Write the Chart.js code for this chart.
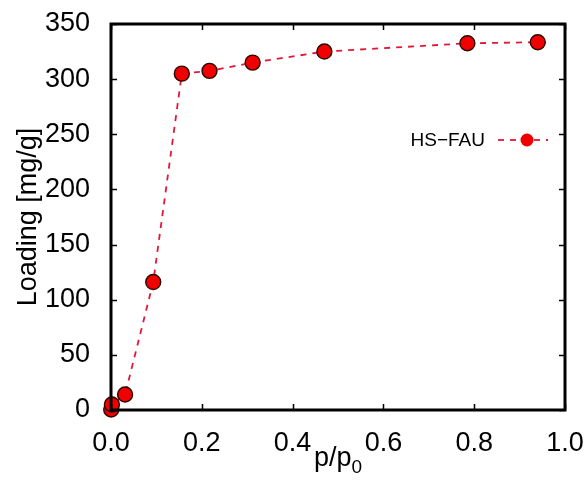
<!DOCTYPE html>
<html>
<head>
<meta charset="utf-8">
<script src="https://cdn.jsdelivr.net/npm/chart.js@4/dist/chart.umd.min.js"></script>
<style>
  html, body { margin: 0; padding: 0; background: #ffffff; }
  #wrap { width: 587px; height: 481px; }
</style>
</head>
<body>
<div id="wrap"><canvas id="c" width="587" height="481"></canvas></div>
<script>
// HS-FAU adsorption isotherm: relative pressure vs. loading
const seriesLabel = 'HS\u2212FAU';
const pressure = [0.0005, 0.002, 0.031, 0.093, 0.156, 0.217, 0.312, 0.470, 0.785, 0.940];
const loading  = [0.5, 5, 14, 116, 305, 307.5, 315, 325, 332.5, 333.5];
const xTicks = [0, 0.2, 0.4, 0.6, 0.8, 1.0];
const yTicks = [0, 50, 100, 150, 200, 250, 300, 350];

const points = pressure.map((p, i) => ({ x: p, y: loading[i] }));

const FONT = 'Liberation Sans, Arial, Helvetica, sans-serif';
const LINE_COLOR = 'rgb(226,24,58)';
const MARKER_FILL = '#f00000';
const MARKER_EDGE = '#2a0800';

// Closed frame with inward ticks on all four sides, drawn above the data
const framePlugin = {
  id: 'frame',
  afterDatasetsDraw(chart) {
    const { ctx, chartArea: a, scales } = chart;
    const tl = 6;
    ctx.save();
    ctx.strokeStyle = '#000';
    ctx.lineWidth = 1.5;
    ctx.beginPath();
    xTicks.forEach(v => {
      const px = Math.round(scales.x.getPixelForValue(v)) + 0.5;
      ctx.moveTo(px, a.bottom); ctx.lineTo(px, a.bottom - tl);
      ctx.moveTo(px, a.top); ctx.lineTo(px, a.top + tl);
    });
    yTicks.forEach(v => {
      const py = Math.round(scales.y.getPixelForValue(v)) + 0.5;
      ctx.moveTo(a.left, py); ctx.lineTo(a.left + tl, py);
      ctx.moveTo(a.right, py); ctx.lineTo(a.right - tl, py);
    });
    ctx.stroke();
    ctx.lineWidth = 3;
    ctx.strokeRect(a.left, a.top, a.right - a.left, a.bottom - a.top);
    ctx.restore();
  }
};

// x-axis title with subscript, and the in-plot key
const annotatePlugin = {
  id: 'annotate',
  afterDraw(chart) {
    const { ctx, chartArea: a } = chart;
    ctx.save();
    ctx.fillStyle = '#000';
    // x title: p/p0
    const main = 'p/p', sub = '0';
    ctx.font = '27px ' + FONT;
    const wMain = ctx.measureText(main).width;
    ctx.font = '19px ' + FONT;
    const wSub = ctx.measureText(sub).width;
    const cx = (a.left + a.right) / 2;
    const x0 = cx - (wMain + wSub) / 2;
    const base = 466;
    ctx.textBaseline = 'alphabetic';
    ctx.textAlign = 'left';
    ctx.font = '27px ' + FONT;
    ctx.fillText(main, x0, base);
    ctx.font = '19px ' + FONT;
    ctx.fillText(sub, x0 + wMain, base + 7);

    // key
    const ds = chart.data.datasets[0];
    const ky = 140;
    ctx.font = '19px ' + FONT;
    ctx.textAlign = 'right';
    ctx.textBaseline = 'middle';
    ctx.fillText(ds.label, 485, ky + 1);
    ctx.strokeStyle = LINE_COLOR;
    ctx.lineWidth = 1.8;
    ctx.setLineDash([6, 6]);
    ctx.beginPath();
    ctx.moveTo(498, ky); ctx.lineTo(548, ky);
    ctx.stroke();
    ctx.setLineDash([]);
    ctx.fillStyle = MARKER_FILL;
    ctx.beginPath();
    ctx.arc(527, ky, 6.5, 0, Math.PI * 2);
    ctx.fill();
    ctx.restore();
  }
};

new Chart(document.getElementById('c'), {
  type: 'line',
  data: {
    datasets: [{
      label: seriesLabel,
      data: points,
      showLine: true,
      borderColor: LINE_COLOR,
      borderWidth: 1.8,
      borderDash: [6, 6],
      tension: 0,
      fill: false,
      pointRadius: 7.5,
      pointHoverRadius: 7.5,
      pointBackgroundColor: MARKER_FILL,
      pointBorderColor: MARKER_EDGE,
      pointBorderWidth: 1.4,
      clip: false
    }]
  },
  options: {
    responsive: false,
    animation: false,
    events: [],
    layout: { padding: { left: 0, right: 22, top: 24, bottom: 0 } },
    plugins: {
      legend: { display: false },
      tooltip: { enabled: false },
      title: { display: false }
    },
    scales: {
      x: {
        type: 'linear',
        min: 0, max: 1,
        afterFit(s) {
          s.height = 71;
          s.paddingLeft = 0; s.paddingRight = 0;
        },
        afterBuildTicks(s) { s.ticks = xTicks.map(v => ({ value: v })); },
        grid: { display: false },
        border: { display: false },
        ticks: {
          color: '#000',
          font: { family: FONT, size: 27 },
          padding: 9,
          maxRotation: 0,
          callback: v => v.toFixed(1)
        }
      },
      y: {
        type: 'linear',
        min: 0, max: 350,
        afterFit(s) {
          s.width = 111;
          s.paddingTop = 0; s.paddingBottom = 0;
        },
        afterBuildTicks(s) { s.ticks = yTicks.map(v => ({ value: v })); },
        grid: { display: false },
        border: { display: false },
        ticks: {
          color: '#000',
          font: { family: FONT, size: 27 },
          padding: 13,
          callback: v => String(v)
        },
        title: {
          display: true,
          text: 'Loading [mg/g]',
          color: '#000',
          font: { family: FONT, size: 27 },
          padding: { top: 12, bottom: 0 }
        }
      }
    }
  },
  plugins: [framePlugin, annotatePlugin]
});
</script>
</body>
</html>
